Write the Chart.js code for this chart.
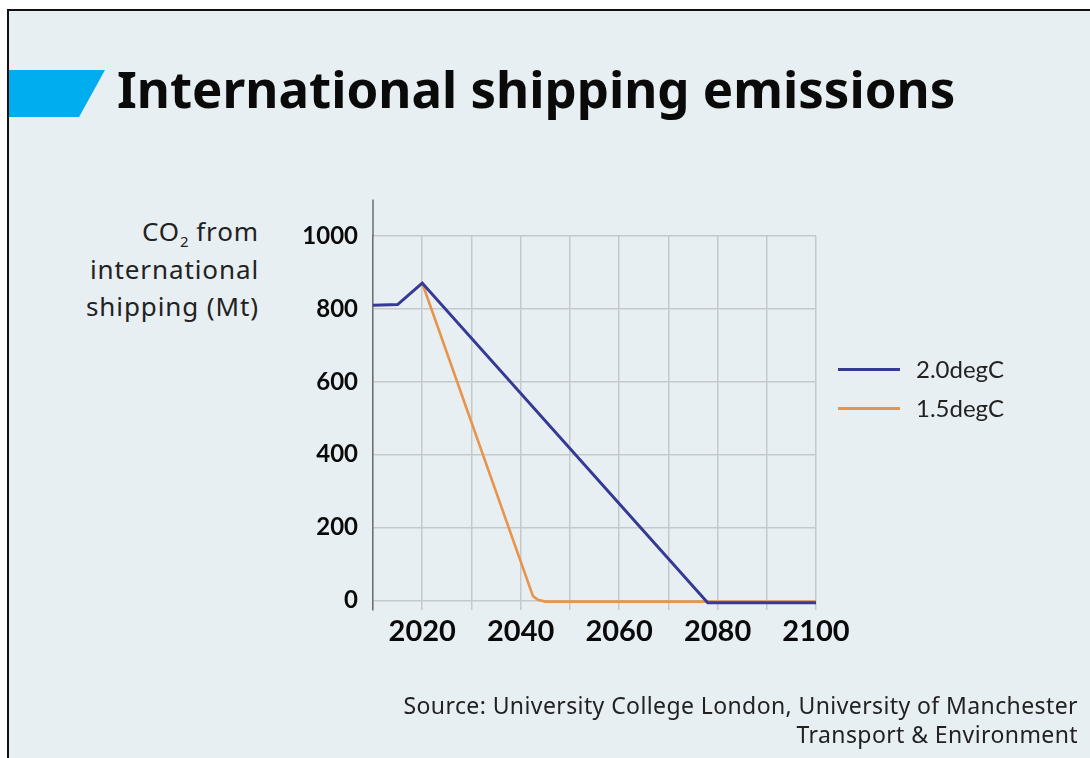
<!DOCTYPE html>
<html>
<head>
<meta charset="utf-8">
<script src="https://cdn.jsdelivr.net/npm/chart.js@4.4.1/dist/chart.umd.min.js"></script>
<style>
  body { margin: 0; background: #fff; font-family: "Noto Sans", Lato, sans-serif; }
  #page { position: relative; width: 1090px; height: 758px; overflow: hidden; }
  #frame { position: absolute; left: 7px; top: 9px; width: 1100px; height: 760px;
           border-left: 2px solid #111; border-top: 2px solid #111; background: #e8eff2; }
  #flag { position: absolute; left: 9px; top: 70px; width: 96px; height: 47px; background: #00aeef;
          clip-path: polygon(0 0, 100% 0, 73% 100%, 0 100%); }
  #title { position: absolute; left: 117px; top: 53px; font-size: 51px; font-weight: 700; color: #0a0a0a;
           line-height: 70px; white-space: nowrap; }
  #ytitle { position: absolute; right: calc(1090px - 259px); top: 213px; text-align: right; font-size: 26px;
            letter-spacing: 0.9px; line-height: 37.5px; color: #222; white-space: nowrap; }
  #ytitle sub { font-size: 15px; vertical-align: -6px; line-height: 0; letter-spacing: 0; }
  #legend { position: absolute; left: 838px; top: 352px; font-family: Lato, sans-serif; }
  .item { position: relative; height: 39px; font-size: 24px; color: #222; white-space: nowrap; }
  .item .swatch { position: absolute; left: 0; top: 16px; width: 62px; height: 3px; }
  .item .lab { position: absolute; left: 78px; top: 2px; line-height: 30px; }
  #source { position: absolute; right: 12px; top: 691px; text-align: right; font-size: 23px; line-height: 29px;
            letter-spacing: 0.4px; color: #222; white-space: nowrap; }
  canvas { position: absolute; left: 0; top: 0; }
</style>
</head>
<body>
<div id="page">
  <div id="frame"></div>
  <div id="flag"></div>
  <div id="title">International shipping emissions</div>
  <div id="ytitle">CO<sub>2</sub> from<br>international<br>shipping (Mt)</div>
  <canvas id="shipChart" width="1090" height="758"></canvas>
  <div id="legend"></div>
  <div id="source">Source: University College London, University of Manchester<br>Transport &amp; Environment</div>
</div>
<script>
// series (Mt CO2)
const seriesNames = ['2.0degC', '1.5degC'];
const years20 = [2010, 2015, 2020, 2078, 2100];
const values20 = [810, 812, 871, -6, -6];
const years15 = [2020, 2042.5, 2043.5, 2045, 2100];
const values15 = [871, 12, 2, -3, -3];

// axis ticks
const xGridYears = [2010, 2020, 2030, 2040, 2050, 2060, 2070, 2080, 2090, 2100];
const xLabelYears = [2020, 2040, 2060, 2080, 2100];
const yTicks = [0, 200, 400, 600, 800, 1000];

const lineColors = ['#363a94', '#e8944a'];

// y axis line goes up past the 1000 gridline
const axisExtend = {
    id: 'axisExtend',
    afterDraw(chart) {
        const ctx = chart.ctx;
        const y = chart.scales.y;
        ctx.save();
        ctx.strokeStyle = '#6e6e6e';
        ctx.lineWidth = 1.5;
        ctx.beginPath();
        ctx.moveTo(chart.chartArea.left, y.getPixelForValue(1100));
        ctx.lineTo(chart.chartArea.left, chart.chartArea.top);
        ctx.stroke();
        ctx.restore();
    }
};

const shipChart = new Chart(document.getElementById('shipChart'), {
    type: 'line',
    data: {
        datasets: [
            {
                label: seriesNames[0],
                data: years20.map((yr, i) => ({x: yr, y: values20[i]})),
                borderColor: lineColors[0],
                backgroundColor: lineColors[0],
                borderWidth: 3,
                pointRadius: 0,
                tension: 0
            },
            {
                label: seriesNames[1],
                data: years15.map((yr, i) => ({x: yr, y: values15[i]})),
                borderColor: lineColors[1],
                backgroundColor: lineColors[1],
                borderWidth: 2.6,
                pointRadius: 0,
                tension: 0
            }
        ]
    },
    options: {
        responsive: false,
        animation: false,
        layout: { padding: { left: 260, top: 236, right: 274, bottom: 0 } },
        plugins: {
            legend: { display: false },
            tooltip: { enabled: false }
        },
        scales: {
            x: {
                type: 'linear',
                min: 2010,
                max: 2100,
                afterBuildTicks: scale => { scale.ticks = xGridYears.map(v => ({value: v})); },
                afterFit: scale => { scale.height = 148.4; },
                grid: { color: '#c6c9cb', lineWidth: 1.5, drawTicks: false },
                border: { display: false },
                ticks: {
                    padding: 5,
                    maxRotation: 0,
                    autoSkip: false,
                    color: '#0a0a0a',
                    font: { family: 'Lato', size: 29, weight: 'bold' },
                    callback: v => xLabelYears.includes(v) ? String(v) : ''
                }
            },
            y: {
                min: -25,
                max: 1000,
                afterBuildTicks: scale => { scale.ticks = yTicks.map(v => ({value: v})); },
                afterFit: scale => { scale.width = 113; },
                grid: { color: '#c6c9cb', lineWidth: 1.5, drawTicks: false },
                border: { display: true, color: '#6e6e6e', width: 1.5 },
                ticks: {
                    padding: 15,
                    color: '#0a0a0a',
                    font: { family: 'Lato', size: 24, weight: 'bold' },
                    callback: v => String(v)
                }
            }
        }
    },
    plugins: [axisExtend]
});

// html legend built from the chart's datasets
const legendBox = document.getElementById('legend');
shipChart.data.datasets.forEach(ds => {
    const item = document.createElement('div');
    item.className = 'item';
    item.innerHTML = '<span class="swatch" style="background:' + ds.borderColor + '"></span><span class="lab">' + ds.label + '</span>';
    legendBox.appendChild(item);
});
</script>
</body>
</html>
